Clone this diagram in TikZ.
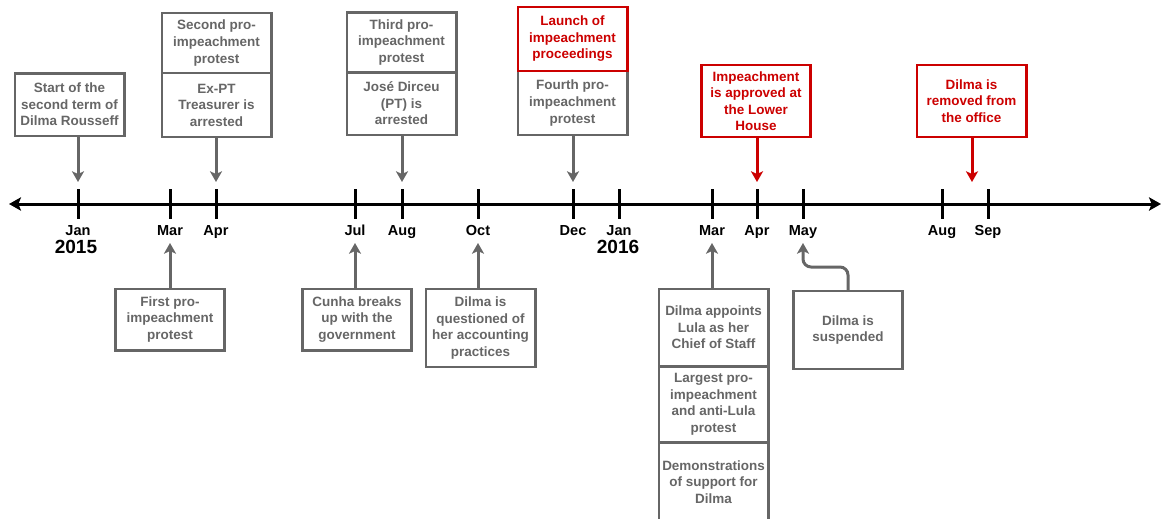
\documentclass[tikz,border=0pt]{standalone}
\usepackage{fontspec}
\setmainfont{Liberation Sans}
\usetikzlibrary{arrows.meta,positioning}
\definecolor{evgray}{HTML}{666666}
\definecolor{evred}{HTML}{CC0000}
\tikzset{
    event/.style={draw=evgray, text=evgray, line width=2pt, fill=white, minimum width=82pt,
        inner sep=0pt, outer sep=0pt, align=center, font=\bfseries\fontsize{10.1}{12.4}\selectfont},
    keyevent/.style={event, draw=evred, text=evred},
    evt/.style={draw=evgray, line width=2.25pt, -{Stealth[length=8pt,width=9pt,inset=2pt]}},
    keyevt/.style={evt, draw=evred},
    axis/.style={line width=2.25pt, {Stealth[length=9pt,width=10pt,inset=2pt]}-{Stealth[length=9pt,width=10pt,inset=2pt]}},
    tickline/.style={line width=2.25pt},
    month/.style={anchor=base, inner sep=0pt, font=\bfseries\fontsize{10.9}{13}\selectfont},
    year/.style={anchor=base, inner sep=0pt, font=\bfseries\fontsize{14.3}{16}\selectfont}
}
\begin{document}
\begin{tikzpicture}[x=0.75pt, y=-0.75pt]
    \useasboundingbox (0,0) rectangle (1162,518);

    \coordinate (ax-l) at (9,204);
    \coordinate (ax-r) at (1161,204);
    \draw[axis] (ax-l) -- (ax-r);
    \foreach \x/\m/\n in {78/Jan/jan15, 170/Mar/mar15, 216/Apr/apr15, 355/Jul/jul15, 402/Aug/aug15,
        478/Oct/oct15, 573/Dec/dec15, 619/Jan/jan16, 712/Mar/mar16, 757/Apr/apr16, 803/May/may16,
        942/Aug/aug16, 988/Sep/sep16}{
        \draw[tickline] (\x,189) -- (\x,219);
        \node[month] (m-\n) at (\x,235) {\m};
        \coordinate (up-\n) at (\x,182);
        \coordinate (dn-\n) at (\x,243);
    }
    \coordinate (up-aug31) at (972,182);
    \node[year] (y-2015) at (76,253) {2015};
    \node[year] (y-2016) at (618,253) {2016};

    \node[event, minimum height=47pt] (start) at (69.5,104.5) {Start of the\\second term of\\Dilma Rousseff};
    \node[event, minimum height=48pt] (expt) at (216.5,105) {Ex-PT\\Treasurer is\\arrested};
    \node[event, minimum height=45pt, above=0pt of expt] (second) {Second pro-\\impeachment\\protest};
    \node[event, minimum height=47pt] (jose) at (401.5,103.5) {José Dirceu\\(PT) is\\arrested};
    \node[event, minimum height=45pt, above=0pt of jose] (third) {Third pro-\\impeachment\\protest};
    \node[event, minimum height=48pt] (fourth) at (572.5,103) {Fourth pro-\\impeachment\\protest};
    \node[keyevent, minimum height=48pt, above=0pt of fourth] (launch) {Launch of\\impeachment\\proceedings};
    \node[keyevent, minimum height=54pt] (lower) at (756,101) {Impeachment\\is approved at\\the Lower\\House};
    \node[keyevent, minimum height=54pt] (removed) at (971.5,101) {Dilma is\\removed from\\the office};

    \node[event, minimum height=46pt] (first) at (170,319.5) {First pro-\\impeachment\\protest};
    \node[event, minimum height=46pt] (cunha) at (357,319.5) {Cunha breaks\\up with the\\government};
    \node[event, minimum height=58.5pt] (questioned) at (480.5,328) {Dilma is\\questioned of\\her accounting\\practices};
    \node[event, minimum height=58pt] (appoints) at (713.5,327.5) {Dilma appoints\\Lula as her\\Chief of Staff};
    \node[event, minimum height=57pt, below=0pt of appoints] (largest) {Largest pro-\\impeachment\\and anti-Lula\\protest};
    \node[event, minimum height=60pt, below=0pt of largest] (demos) {Demonstrations\\of support for\\Dilma};
    \node[event, minimum height=58.5pt] (suspended) at (848,330) {Dilma is\\suspended};

    \draw[evt] (start.south -| up-jan15) -- (up-jan15);
    \draw[evt] (expt.south -| up-apr15) -- (up-apr15);
    \draw[evt] (jose.south -| up-aug15) -- (up-aug15);
    \draw[evt] (fourth.south -| up-dec15) -- (up-dec15);
    \draw[keyevt] (lower.south -| up-apr16) -- (up-apr16);
    \draw[keyevt] (removed.south -| up-aug31) -- (up-aug31);

    \draw[evt] (first.north -| dn-mar15) -- (dn-mar15);
    \draw[evt] (cunha.north -| dn-jul15) -- (dn-jul15);
    \draw[evt] (questioned.north -| dn-oct15) -- (dn-oct15);
    \draw[evt] (appoints.north -| dn-mar16) -- (dn-mar16);
    \draw[evt, rounded corners=6] (suspended.north) -- ++(0,-24) -| (dn-may16);
\end{tikzpicture}
\end{document}
